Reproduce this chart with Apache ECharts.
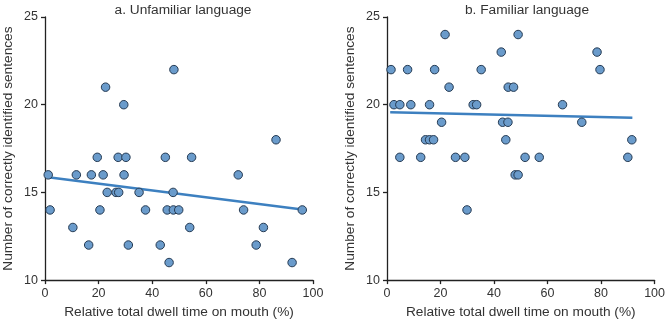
<!DOCTYPE html>
<html>
<head>
<meta charset="utf-8">
<script src="https://cdn.jsdelivr.net/npm/echarts@6/dist/echarts.min.js"></script>
<style>
html,body{margin:0;padding:0;background:#fff;}
#chart{width:668px;height:324px;}
</style>
</head>
<body>
<div id="chart"></div>
<script>
// panel a: unfamiliar language
var unfamiliarPoints = [
    [22.6,21],[48.1,22],[29.4,20],[86.2,18],
    [19.5,17],[27.3,17],[30.2,17],[44.9,17],[54.7,17],
    [1.2,16],[11.7,16],[17.3,16],[21.7,16],[29.5,16],[72.1,16],
    [23.2,15],[26.5,15],[27.5,15],[35.1,15],[47.8,15],
    [1.9,14],[20.5,14],[37.5,14],[45.6,14],[47.9,14],[49.9,14],[74.1,14],[96.0,14],
    [10.4,13],[54.0,13],[81.5,13],
    [16.3,12],[31.1,12],[43.0,12],[78.8,12],
    [46.3,11],[92.2,11]
];
var unfamiliarFit = [[1.2,15.87],[96.0,14.02]];

// panel b: familiar language
var familiarPoints = [
    [21.7,24],[49.0,24],
    [42.7,23],[78.5,23],
    [1.5,22],[7.7,22],[17.8,22],[35.2,22],[79.6,22],
    [23.2,21],[45.3,21],[47.3,21],
    [2.6,20],[4.8,20],[8.9,20],[15.9,20],[32.2,20],[33.5,20],[65.6,20],
    [20.4,19],[43.2,19],[45.2,19],[72.8,19],
    [14.4,18],[15.9,18],[17.4,18],[44.4,18],[91.5,18],
    [4.8,17],[12.6,17],[25.6,17],[29.1,17],[51.6,17],[56.9,17],[90.0,17],
    [47.9,16],[49.0,16],
    [29.9,14]
];
var familiarFit = [[1.2,19.57],[91.7,19.25]];

var titles = ['a. Unfamiliar language', 'b. Familiar language'];
var xName = 'Relative total dwell time on mouth (%)';
var yName = 'Number of correctly identified sentences';

var font = 'Liberation Sans, Arial, sans-serif';
var axisLine = {lineStyle:{color:'#222', width:1.3}};
var axisTick = {length:4, lineStyle:{color:'#222', width:1.3}};
var axisLabel = {color:'#333', fontSize:12.5, fontFamily:font, margin:7};
var nameStyle = {color:'#333', fontSize:13.7, fontFamily:font};

function xAxis(i){
    return {
        type:'value', gridIndex:i, min:0, max:100, interval:20,
        name:xName, nameLocation:'middle', nameGap:24,
        nameTextStyle:nameStyle,
        axisLine:axisLine, axisTick:axisTick, axisLabel:axisLabel,
        splitLine:{show:false}
    };
}
function yAxis(i){
    return {
        type:'value', gridIndex:i, min:10, max:25, interval:5,
        name:yName, nameLocation:'middle', nameGap:30,
        nameTextStyle:nameStyle,
        axisLine:{show:true, lineStyle:axisLine.lineStyle}, axisTick:{show:true, length:4, lineStyle:axisTick.lineStyle},
        axisLabel:axisLabel,
        splitLine:{show:false}
    };
}
function dots(i, data){
    return {
        type:'scatter', xAxisIndex:i, yAxisIndex:i, symbolSize:8.5,
        itemStyle:{color:'#6a9bcb', borderColor:'#253a52', borderWidth:1, opacity:1},
        data:data, z:3
    };
}
function fit(i, data){
    return {
        type:'line', xAxisIndex:i, yAxisIndex:i, showSymbol:false, symbol:'none',
        lineStyle:{color:'#3d80c0', width:2.5},
        data:data, z:2
    };
}

var chart = echarts.init(document.getElementById('chart'));
var option = {
    animation:false,
    title:[
        {text:titles[0], left:178, top:-2, textAlign:'center', textStyle:{color:'#333', fontSize:13.7, fontWeight:'normal', fontFamily:font}},
        {text:titles[1], left:522, top:-2, textAlign:'center', textStyle:{color:'#333', fontSize:13.7, fontWeight:'normal', fontFamily:font}}
    ],
    grid:[
        {left:43, right:355, top:17, bottom:41},
        {left:387, right:11, top:17, bottom:41}
    ],
    xAxis:[xAxis(0), xAxis(1)],
    yAxis:[yAxis(0), yAxis(1)],
    series:[
        fit(0, unfamiliarFit), dots(0, unfamiliarPoints),
        fit(1, familiarFit), dots(1, familiarPoints)
    ]
};
chart.setOption(option);
</script>
</body>
</html>
